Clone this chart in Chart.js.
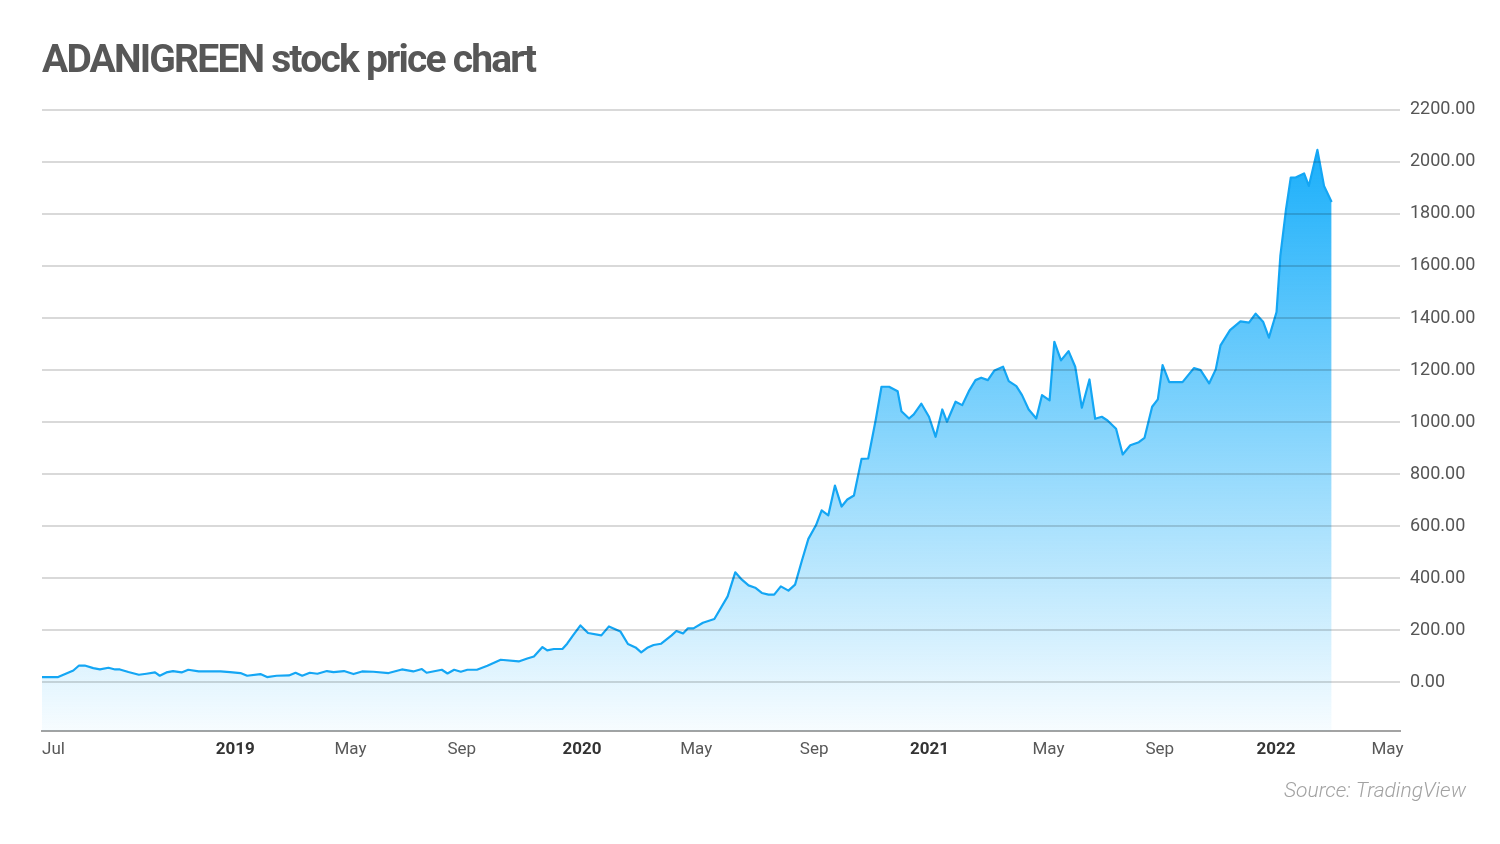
<!DOCTYPE html>
<html>
<head>
<meta charset="utf-8">
<script src="https://cdn.jsdelivr.net/npm/chart.js@4.4.1/dist/chart.umd.min.js"></script>
<style>
  html, body { margin: 0; padding: 0; background: #ffffff; }
  #wrap { width: 1500px; height: 844px; }
</style>
</head>
<body>
<div id="wrap"><canvas id="c" width="1500" height="844"></canvas></div>
<script>
// ---- Data (weekly closes) ----
const dates = [
  "2018-07-02","2018-07-19","2018-08-04","2018-08-10","2018-08-16","2018-08-25","2018-09-01","2018-09-10","2018-09-17","2018-09-22",
  "2018-10-01","2018-10-12","2018-10-20","2018-10-29","2018-11-03","2018-11-10","2018-11-17","2018-11-26","2018-12-03","2018-12-14",
  "2019-01-06","2019-01-16","2019-01-27","2019-02-03","2019-02-17","2019-02-24","2019-03-06","2019-03-19","2019-03-26","2019-04-02",
  "2019-04-10","2019-04-18","2019-04-28","2019-05-05","2019-05-16","2019-05-26","2019-06-04","2019-06-16","2019-07-02","2019-07-16",
  "2019-07-28","2019-08-06","2019-08-11","2019-08-27","2019-09-02","2019-09-09","2019-09-16","2019-09-23","2019-10-03","2019-10-14",
  "2019-10-28","2019-11-16","2019-11-25","2019-12-02","2019-12-11","2019-12-16","2019-12-23","2020-01-01","2020-01-06","2020-01-12",
  "2020-01-20","2020-01-28","2020-02-11","2020-02-19","2020-03-02","2020-03-10","2020-03-18","2020-03-24","2020-03-31","2020-04-06",
  "2020-04-14","2020-04-25","2020-04-30","2020-05-07","2020-05-12","2020-05-18","2020-05-28","2020-06-09","2020-06-23","2020-07-01",
  "2020-07-08","2020-07-15","2020-07-22","2020-07-29","2020-08-05","2020-08-11","2020-08-18","2020-08-26","2020-09-02","2020-09-09",
  "2020-09-16","2020-09-24","2020-09-30","2020-10-07","2020-10-14","2020-10-21","2020-10-27","2020-11-03","2020-11-11","2020-11-18",
  "2020-11-26","2020-12-02","2020-12-10","2020-12-19","2020-12-23","2020-12-31","2021-01-05","2021-01-13","2021-01-21","2021-01-28",
  "2021-02-04","2021-02-09","2021-02-18","2021-02-25","2021-03-04","2021-03-11","2021-03-17","2021-03-24","2021-03-31","2021-04-09",
  "2021-04-15","2021-04-23","2021-04-29","2021-05-06","2021-05-14","2021-05-20","2021-05-28","2021-06-02","2021-06-09","2021-06-17",
  "2021-06-24","2021-07-01","2021-07-09","2021-07-15","2021-07-22","2021-07-28","2021-08-06","2021-08-13","2021-08-21","2021-08-30",
  "2021-09-05","2021-09-13","2021-09-19","2021-09-24","2021-10-01","2021-10-15","2021-10-27","2021-11-03","2021-11-12","2021-11-19",
  "2021-11-24","2021-12-04","2021-12-15","2021-12-24","2021-12-31","2022-01-08","2022-01-14","2022-01-22","2022-01-26","2022-02-01",
  "2022-02-06","2022-02-11","2022-02-20","2022-02-25","2022-03-06","2022-03-13","2022-03-21"
];
const prices = [
  20.8, 20.8, 46, 65, 65, 55, 50, 56.5, 50, 50,
  40, 29.6, 33.5, 38.5, 25.8, 38.5, 43.8, 38.5, 48.8, 42.3,
  42.3, 40, 36.2, 25.8, 32.3, 20.8, 25.8, 26.9, 37.3, 25.8,
  37.3, 33.5, 43.8, 40, 43.8, 32.3, 42.3, 41.2, 36.2, 50,
  42.3, 51.5, 37.3, 48.8, 34.6, 48.8, 41.2, 48.8, 48.8, 64.2,
  87.3, 80.8, 92.3, 100, 136, 123, 128.5, 128.5, 148.8, 179.6,
  219.2, 190, 180.8, 215.4, 196.2, 147.7, 134.6, 115.4, 134.6, 143.8,
  148.8, 180.8, 197.7, 188.5, 207.7, 207.7, 229.6, 243.8, 330.8, 423,
  395, 373, 364, 343.8, 337.3, 337.3, 369.2, 352.7, 375.8, 465.4,
  551.5, 603.8, 661.5, 642.3, 756.5, 675.8, 702.7, 718, 859, 860.4,
  1010.4, 1136, 1136, 1119, 1042, 1014, 1029.6, 1070.8, 1020.8, 943.8,
  1048.8, 1001.5, 1078.5, 1065.4, 1119, 1161.5, 1170.8, 1161.5, 1198.8, 1213,
  1157.7, 1138.5, 1103.8, 1048.8, 1014, 1103.8, 1083.5, 1309, 1237.3, 1273,
  1213, 1055.4, 1164, 1013, 1020.8, 1006.5, 974.6, 875.8, 911.5, 923,
  940, 1059.2, 1087.3, 1219.2, 1153.8, 1153.8, 1207.7, 1200, 1148.8, 1202.7,
  1295, 1353.8, 1387.3, 1382.3, 1417, 1384.6, 1324.6, 1423, 1638.5, 1818,
  1940, 1940, 1955.4, 1907.7, 2046, 1907.7, 1846
];

// ---- Axis ticks (placed on the first weekly bar of each labelled month) ----
const xTickDates  = ["2018-07-02","2019-01-01","2019-05-06","2019-09-02","2020-01-01","2020-05-04","2020-09-07","2021-01-01","2021-05-10","2021-09-06","2022-01-01","2022-05-02"];
const xTickLabels = ["Jul","2019","May","Sep","2020","May","Sep","2021","May","Sep","2022","May"];
const yTickValues = [0, 200, 400, 600, 800, 1000, 1200, 1400, 1600, 1800, 2000, 2200];
const xRange = ["2018-07-02", "2022-06-01"];
const yRange = [-188, 2200];

const titleText = "ADANIGREEN stock price chart";
const sourceText = "Source: TradingView";

// ---- helpers ----
const DAY = 86400000;
const toDay = s => Date.parse(s + "T00:00:00Z") / DAY;
const points = dates.map((d, i) => ({ x: toDay(d), y: prices[i] }));
const isYear = i => /^\d{4}$/.test(xTickLabels[i] || "");

const FONT = "Roboto, 'Noto Sans', sans-serif";

const ctx = document.getElementById('c').getContext('2d');

const config = {
  type: 'line',
  data: {
    datasets: [{
      label: 'ADANIGREEN',
      data: points,
      borderColor: '#14a6f4',
      borderWidth: 2.2,
      pointRadius: 0,
      tension: 0,
      borderJoinStyle: 'round',
      fill: 'start',
      backgroundColor: (c) => {
        const chart = c.chart;
        const area = chart.chartArea;
        if (!area) return 'rgba(12,170,250,0.4)';
        const g = chart.ctx.createLinearGradient(0, area.top, 0, area.bottom);
        g.addColorStop(0, 'rgba(12,170,250,1)');
        g.addColorStop(1, 'rgba(12,170,250,0.03)');
        return g;
      }
    }]
  },
  options: {
    responsive: false,
    animation: false,
    events: [],
    layout: { padding: { top: 0, left: 42, right: 20, bottom: 30 } },
    plugins: {
      legend: { display: false },
      tooltip: { enabled: false },
      title: {
        display: true,
        text: titleText,
        align: 'start',
        color: '#575757',
        font: { family: FONT, size: 39, weight: '700', lineHeight: 1.2 },
        padding: { top: 39, bottom: 24 }
      },
      subtitle: {
        display: true,
        text: sourceText,
        position: 'bottom',
        align: 'end',
        color: '#a2a2a2',
        font: { family: FONT, size: 21, style: 'italic', weight: '300', lineHeight: 1.2 },
        padding: { top: 11, bottom: 10 }
      }
    },
    scales: {
      x: {
        type: 'linear',
        min: toDay(xRange[0]),
        max: toDay(xRange[1]),
        afterBuildTicks: (s) => { s.ticks = xTickDates.map(d => ({ value: toDay(d) })); },
        grid: { display: false, drawTicks: false },
        border: { display: true, color: '#a3a3a3', width: 2 },
        ticks: {
          autoSkip: false,
          maxRotation: 0,
          minRotation: 0,
          align: 'start',
          padding: 8,
          callback: (v, i) => xTickLabels[i],
          font: (c) => ({ family: FONT, size: 17, weight: isYear(c.index) ? '700' : '400' }),
          color: (c) => isYear(c.index) ? '#333333' : '#585858'
        }
      },
      y: {
        position: 'right',
        min: yRange[0],
        max: yRange[1],
        afterBuildTicks: (s) => { s.ticks = yTickValues.map(v => ({ value: v })); },
        afterFit: (s) => { s.width = 80; },
        grid: { color: 'rgba(0,0,0,0.15)', lineWidth: 2, drawTicks: false, z: 1 },
        border: { display: false },
        ticks: {
          padding: 10,
          callback: (v) => Number(v).toFixed(2),
          font: { family: FONT, size: 18 },
          color: '#555555'
        }
      }
    }
  }
};

const chart = new Chart(ctx, config);

// Fine typographic adjustments: tighter title tracking, source note inset from the right edge
(function () {
  let changed = false;
  const tb = chart.titleBlock;
  if (tb && ('letterSpacing' in chart.ctx)) {
    const orig = tb.draw;
    tb.draw = function (...args) {
      const c = this.ctx;
      c.save();
      c.letterSpacing = '-1.8px';
      orig.apply(this, args);
      c.restore();
    };
    changed = true;
  }
  const sb = chart.boxes.find(b => b !== tb && b.options && b.options.text === sourceText);
  if (sb) {
    const origS = sb.draw;
    sb.draw = function (...args) {
      const c = this.ctx;
      c.save();
      c.translate(-14, 0);
      origS.apply(this, args);
      c.restore();
    };
    changed = true;
  }
  if (changed) chart.draw();
})();
</script>
</body>
</html>
